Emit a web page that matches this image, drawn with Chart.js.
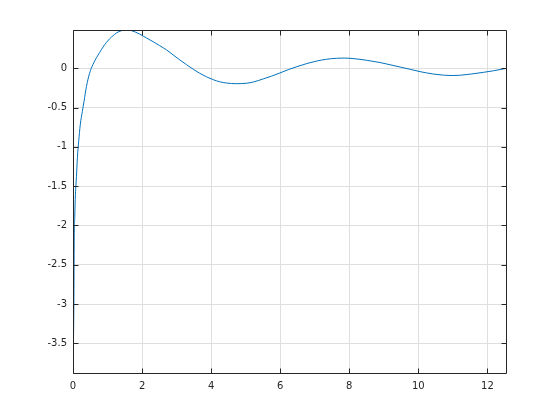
<!DOCTYPE html>
<html>
<head>
<meta charset="utf-8">
<script src="https://cdn.jsdelivr.net/npm/chart.js@4"></script>
<style>
  html, body { margin: 0; padding: 0; background: #fff; }
  canvas { display: block; }
</style>
</head>
<body>
<canvas id="myChart" width="560" height="420"></canvas>
<script>
// values
const xValues = [0, 0.025, 0.035, 0.05, 0.07, 0.1, 0.127, 0.165, 0.21, 0.27, 0.32, 0.39, 0.48, 0.58, 0.68,
  0.77, 0.87, 0.97, 1.06, 1.16, 1.26, 1.4, 1.55, 1.7, 1.93, 2.13, 2.32, 2.51, 2.71, 2.9, 3.09, 3.29,
  3.48, 3.67, 3.87, 4.06, 4.25, 4.45, 4.74, 5.03, 5.22, 5.51, 5.75, 5.99, 6.23, 6.48, 6.77, 7.06, 7.34,
  7.63, 7.85, 8.02, 8.31, 8.5, 8.89, 9.18, 9.47, 9.76, 10.05, 10.43, 10.72, 11.0, 11.2, 11.5, 11.88,
  12.17, 12.566];
const yValues = [-3.89, -3.0, -2.2, -1.9, -1.61, -1.38, -1.14, -0.93, -0.72, -0.55, -0.42, -0.23, -0.064, 0.05, 0.135,
  0.2, 0.27, 0.33, 0.375, 0.415, 0.45, 0.478, 0.487, 0.478, 0.435, 0.385, 0.338, 0.288, 0.233, 0.17, 0.107, 0.045,
  -0.012, -0.064, -0.11, -0.145, -0.172, -0.188, -0.196, -0.19, -0.175, -0.135, -0.1, -0.06, -0.018, 0.02, 0.06, 0.092, 0.115,
  0.127, 0.13, 0.127, 0.114, 0.102, 0.073, 0.045, 0.016, -0.013, -0.043, -0.073, -0.087, -0.092, -0.089, -0.075, -0.052,
  -0.032, 0.0];
const xTicks = [0, 2, 4, 6, 8, 10, 12];
const yTicks = [-3.5, -3, -2.5, -2, -1.5, -1, -0.5, 0];
const xMax = 4 * Math.PI;
const yMin = -3.89;
const yMax = 0.487;

const axisColor = "#262626";

// box round the plot with ticks pointing inward
const boxPlugin = {
  id: "box",
  afterDraw(chart) {
    const { ctx, chartArea: a, scales } = chart;
    const len = 5;
    const l = Math.round(a.left) + 0.5, r = Math.round(a.right) - 0.5;
    const t = Math.round(a.top) + 0.5, b = Math.round(a.bottom) - 0.5;
    ctx.save();
    ctx.strokeStyle = axisColor;
    ctx.lineWidth = 1;
    ctx.beginPath();
    ctx.rect(l, t, r - l, b - t);
    xTicks.forEach((v) => {
      const px = Math.round(scales.x.getPixelForValue(v)) + 0.5;
      ctx.moveTo(px, b); ctx.lineTo(px, b - len);
      ctx.moveTo(px, t); ctx.lineTo(px, t + len);
    });
    yTicks.forEach((v) => {
      const py = Math.round(scales.y.getPixelForValue(v)) + 0.5;
      ctx.moveTo(l, py); ctx.lineTo(l + len, py);
      ctx.moveTo(r, py); ctx.lineTo(r - len, py);
    });
    ctx.stroke();
    ctx.restore();
  },
};

new Chart("myChart", {
  type: "line",
  data: {
    datasets: [
      {
        data: xValues.map((x, i) => ({ x: x, y: yValues[i] })),
        borderColor: "#0072BD",
        borderWidth: 1,
        pointRadius: 0,
        cubicInterpolationMode: "monotone",
        fill: false,
      },
    ],
  },
  options: {
    responsive: false,
    animation: false,
    layout: { padding: { top: 30, right: 53, left: 0, bottom: 0 } },
    scales: {
      x: {
        type: "linear",
        min: 0,
        max: xMax,
        afterBuildTicks: (s) => { s.ticks = xTicks.map((v) => ({ value: v })); },
        afterFit: (s) => { s.height = 46; },
        grid: { color: "#dfdfdf", drawTicks: false },
        border: { display: false },
        ticks: {
          padding: 6,
          maxRotation: 0,
          color: axisColor,
          font: { family: "DejaVu Sans", size: 10 },
          callback: (v) => String(v),
        },
      },
      y: {
        type: "linear",
        min: yMin,
        max: yMax,
        afterBuildTicks: (s) => { s.ticks = yTicks.map((v) => ({ value: v })); },
        afterFit: (s) => { s.width = 73; },
        grid: { color: "#dfdfdf", drawTicks: false },
        border: { display: false },
        ticks: {
          padding: 6,
          color: axisColor,
          font: { family: "DejaVu Sans", size: 10 },
          callback: (v) => String(v),
        },
      },
    },
    plugins: {
      legend: { display: false },
      tooltip: { enabled: false },
    },
  },
  plugins: [boxPlugin],
});
</script>
</body>
</html>
